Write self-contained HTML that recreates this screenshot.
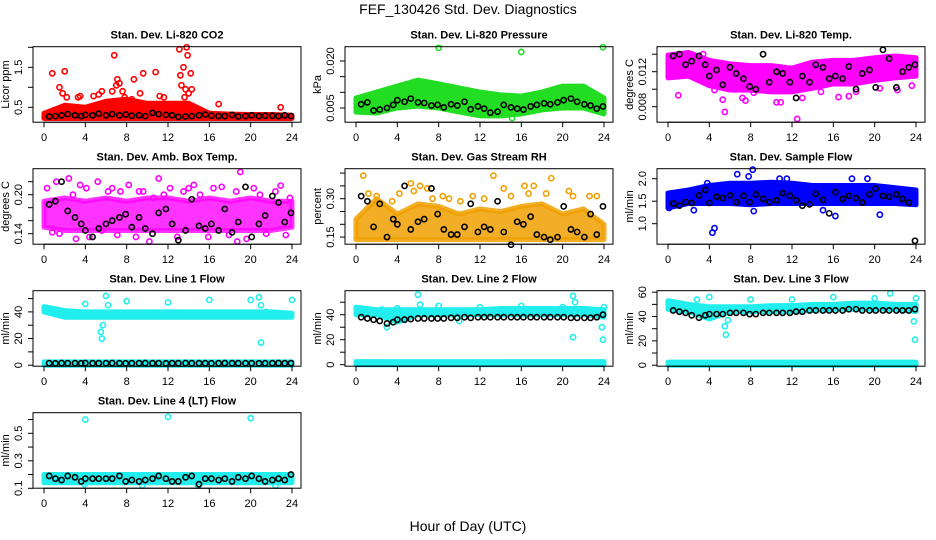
<!DOCTYPE html>
<html><head><meta charset="utf-8"><style>
html,body{margin:0;padding:0;background:#fff;}
svg{display:block;font-family:"Liberation Sans",sans-serif;}
</style></head><body>
<svg id="chart" width="936" height="540" viewBox="0 0 936 540">
<rect width="936" height="540" fill="#fff"/>
<text x="468" y="14" font-size="14" text-anchor="middle">FEF_130426  Std. Dev. Diagnostics</text>
<text x="468" y="531" font-size="14" text-anchor="middle">Hour of Day (UTC)</text>
</svg>
<script>
// shared category arrays
const xTicks = [0,4,8,12,16,20,24];
const bandHours = [0,2,4,6,8,10,12,14,16,18,20,22,24];
const blackHours = [0.5,1.1,1.7,2.3,3.0,3.6,4.0,4.7,5.3,6.0,6.6,7.3,7.9,8.5,9.2,9.8,10.5,11.1,11.8,12.4,13.0,13.7,14.3,15.0,15.6,16.2,16.9,17.5,18.2,18.8,19.5,20.1,20.8,21.4,22.1,22.7,23.3,23.9];

// Panel 1: CO2
const co2Lo = [0.22,0.22,0.22,0.22,0.22,0.22,0.22,0.22,0.22,0.22,0.22,0.22,0.22];
const co2Hi = [0.35,0.55,0.5,0.65,0.7,0.6,0.6,0.6,0.35,0.33,0.32,0.32,0.3];
const co2OutX = [0.8,2.0,1.5,1.8,2.2,3.3,3.5,4.8,5.3,5.6,6.6,6.8,7.0,7.1,7.3,7.6,7.8,8.5,8.7,9.3,9.6,10.8,11.2,11.6,13.1,13.2,13.3,13.5,13.8,13.9,13.7,14.0,14.2,14.3,13.6,16.9,22.9];
const co2OutY = [1.35,1.4,1.0,0.85,0.75,0.75,0.78,0.78,0.82,0.9,0.9,1.8,1.05,1.2,1.1,0.9,0.75,0.7,1.2,0.85,1.35,1.38,0.78,0.75,1.95,1.3,1.05,1.5,2.0,1.8,0.95,0.85,1.35,0.95,0.75,0.58,0.5];
const co2Black = [0.27,0.28,0.30,0.33,0.30,0.28,0.31,0.30,0.34,0.30,0.33,0.30,0.32,0.29,0.30,0.28,0.36,0.33,0.31,0.30,0.26,0.27,0.28,0.30,0.32,0.29,0.28,0.28,0.31,0.27,0.28,0.30,0.28,0.29,0.29,0.28,0.30,0.28];

// Panel 2: Pressure
const presLo = [0.0037,0.0034,0.0050,0.0056,0.0050,0.0037,0.0025,0.0025,0.0031,0.0044,0.0050,0.0050,0.0031];
const presHi = [0.0082,0.0101,0.0120,0.0139,0.0127,0.0114,0.0101,0.0092,0.0088,0.0101,0.0120,0.0120,0.0082];
const presOutX = [8.0,16.0,23.9,15.1];
const presOutY = [0.0242,0.0229,0.0244,0.0018];
const presBlack = [0.0062,0.0068,0.0042,0.0045,0.0050,0.0060,0.0075,0.0070,0.0080,0.0068,0.0066,0.0058,0.0060,0.0052,0.0062,0.0058,0.0070,0.0046,0.0055,0.0048,0.0035,0.0038,0.0060,0.0052,0.0048,0.0045,0.0055,0.0060,0.0065,0.0062,0.0068,0.0075,0.0080,0.0070,0.0062,0.0058,0.0048,0.0055];

// Panel 3: Li-820 Temp
const tempLo = [0.0113,0.0115,0.0104,0.0099,0.0099,0.0097,0.0097,0.0101,0.0106,0.0106,0.0110,0.0113,0.0115];
const tempHi = [0.0139,0.0142,0.0133,0.0129,0.0127,0.0127,0.0124,0.0131,0.0133,0.0133,0.0136,0.0138,0.0136];
const tempOutX = [1.0,5.5,5.3,7.2,7.5,8.3,10.5,10.9,12.5,13.0,16.5,17.5,18.2,20.5,22.2,23.6,3.4,2.5,4.5,9.0,14.8];
const tempOutY = [0.0093,0.0074,0.0088,0.0090,0.0087,0.0096,0.0085,0.0085,0.0066,0.0090,0.0091,0.0092,0.0097,0.0101,0.0099,0.0104,0.0140,0.0133,0.0099,0.0107,0.0097];
const tempBlack = [0.0138,0.0140,0.0128,0.0132,0.0138,0.0128,0.0115,0.0122,0.0105,0.0125,0.0118,0.0112,0.0103,0.0100,0.0140,0.0108,0.0120,0.0118,0.0108,0.0090,0.0115,0.0108,0.0128,0.0125,0.0112,0.0115,0.0112,0.0126,0.0100,0.0118,0.0122,0.0102,0.0145,0.0135,0.0102,0.0120,0.0125,0.0128];

// Panel 4: Amb box temp
const ambLo = [0.15,0.145,0.145,0.145,0.145,0.145,0.145,0.145,0.145,0.145,0.145,0.145,0.15];
const ambHi = [0.19,0.195,0.19,0.195,0.19,0.195,0.195,0.19,0.195,0.19,0.195,0.19,0.19];
const ambOutX = [0.3,1.2,1.5,2.4,2.8,3.5,4.1,4.4,5.2,5.6,6.2,6.6,7.1,7.4,8.2,8.9,9.6,10.2,10.6,11.1,11.6,12.2,12.9,13.5,14.0,14.5,15.1,15.9,16.4,17.2,17.9,18.6,19.0,19.6,20.3,20.9,21.5,22.4,22.9,23.4,0.8,3.1,9.2,18.7,23.8];
const ambOutY = [0.21,0.22,0.14,0.225,0.20,0.215,0.21,0.135,0.22,0.145,0.205,0.21,0.138,0.205,0.215,0.135,0.205,0.128,0.195,0.225,0.2,0.21,0.135,0.205,0.21,0.215,0.2,0.135,0.21,0.212,0.138,0.205,0.235,0.132,0.21,0.2,0.14,0.205,0.214,0.138,0.142,0.132,0.205,0.128,0.195];
const ambBlack = [0.185,0.19,0.22,0.175,0.165,0.155,0.145,0.135,0.148,0.155,0.16,0.165,0.17,0.15,0.165,0.148,0.14,0.172,0.178,0.155,0.13,0.145,0.193,0.152,0.148,0.155,0.145,0.178,0.142,0.158,0.212,0.135,0.155,0.168,0.198,0.188,0.158,0.172];

// Panel 5: Gas stream RH
const rhLo = [0.14,0.14,0.14,0.14,0.14,0.14,0.14,0.14,0.14,0.14,0.14,0.14,0.14];
const rhHi = [0.22,0.30,0.24,0.28,0.27,0.24,0.26,0.25,0.27,0.28,0.24,0.26,0.2];
const rhOutX = [0.7,1.2,2.0,3.5,4.2,5.3,5.6,6.2,6.9,7.4,8.4,9.0,10.1,11.3,12.4,13.3,14.3,15.0,16.3,16.7,17.2,18.4,18.9,20.6,21.0,22.6,23.3];
const rhOutY = [0.39,0.32,0.31,0.29,0.32,0.36,0.33,0.35,0.34,0.30,0.31,0.30,0.29,0.31,0.30,0.39,0.34,0.31,0.35,0.32,0.35,0.32,0.38,0.33,0.31,0.31,0.31];
const rhBlack = [0.31,0.29,0.19,0.28,0.15,0.22,0.20,0.35,0.18,0.21,0.22,0.34,0.24,0.18,0.16,0.16,0.19,0.28,0.17,0.19,0.18,0.29,0.17,0.12,0.21,0.20,0.23,0.16,0.15,0.14,0.15,0.27,0.18,0.17,0.15,0.24,0.16,0.27];

// Panel 6: Sample flow
const sfLo = [1.35,1.45,1.45,1.45,1.42,1.45,1.45,1.45,1.45,1.45,1.45,1.45,1.42];
const sfHi = [1.68,1.75,1.85,1.9,1.9,1.92,1.9,1.85,1.85,1.85,1.85,1.8,1.75];
const sfOutX = [4.3,4.5,6.7,8.2,7.8,17.8,19.3,20.5,16.2,8.3,0.1,2.5,11.5,15.0,3.8,10.8];
const sfOutY = [0.8,0.9,2.1,2.2,2.05,2.0,2.0,1.2,1.17,1.28,1.35,1.3,2.0,1.3,1.9,2.0];
const sfBlack = [1.45,1.40,1.48,1.46,1.63,1.75,1.46,1.60,1.57,1.63,1.48,1.62,1.48,1.65,1.55,1.48,1.52,1.68,1.62,1.52,1.40,1.43,1.66,1.53,1.23,1.70,1.55,1.62,1.57,1.47,1.65,1.78,1.62,1.60,1.65,1.55,1.47,0.62];

// Panel 7: Line 1 flow
const l1Lo = [40,36,36,36,36,36,36,36,36,36,36,36,36];
const l1Hi = [44,41,40,40,40,40,40,40,40,40,40,40,39];
const l1ZeroLo = [0,0,0,0,0,0,0,0,0,0,0,0,0];
const l1ZeroHi = [2.5,2.5,2.5,2.5,2.5,2.5,2.5,2.5,2.5,2.5,2.5,2.5,2.5];
const l1OutX = [4,5.5,5.6,5.7,6,6.2,8,12,16,20,20.8,21,21,21.5,24];
const l1OutY = [46,25,20,30,52,45,48,47,49,49,51,45,17,40,49];
const l1Black = [1.5,1.4,1.6,1.5,1.5,1.4,1.6,1.5,1.5,1.5,1.6,1.5,1.4,1.5,1.5,1.6,1.5,1.5,1.4,1.5,1.5,1.6,1.5,1.5,1.5,1.4,1.5,1.6,1.5,1.5,1.5,1.5,1.4,1.5,1.5,1.6,1.5,1.5];

// Panel 8: Line 2 flow
const l2Lo = [40,40,34,40,40,40,40,40,40,40,40,40,38];
const l2Hi = [46,44,44,44,44,44,44,45,45,45,45,45,44];
const l2OutX = [3,2.5,4,6,6.2,8,12,16,20,21,21.2,21,23.8,23.9,24,10];
const l2OutY = [30,44,45,56,48,47,46,47,46,55,50,22,30,20,46,35];
const l2Black = [38,37,36,35,33,34,36,36,36.5,37,37,37,37,37,37.5,37.5,38,37.5,38,38,38,38,38,38,38,38,38,38,38,38,38,38,37.5,37.5,37.5,37.5,38,40];

// Panel 9: Line 3 flow
const l3Lo = [46,44,38,44,44,44,44,45,46,46,46,46,44];
const l3Hi = [53,50,48,48,48,49,49,50,50,51,51,50,50];
const l3OutX = [2.8,4,5.5,5.6,5.8,8,12,16,20,21.5,23.8,23.9,24];
const l3OutY = [54,56,32,25,37,54,54,56,55,59,36,21,55];
const l3Black = [45,44,43,41,39,41,42,42,42,43,43,43,42,42,43,43,43,43,43,44,44,45,45,45,45,45,45,46,46,45,45,45,45,45,45,45,45,46];

// Panel 10: Line 4 flow
const l4Lo = [0.14,0.14,0.14,0.14,0.14,0.14,0.14,0.14,0.14,0.14,0.14,0.14,0.14];
const l4Hi = [0.2,0.2,0.2,0.2,0.2,0.2,0.2,0.2,0.2,0.2,0.2,0.2,0.2];
const l4OutX = [4,12,20,9.5,14.9,22.4,3.9];
const l4OutY = [0.6,0.62,0.61,0.12,0.12,0.12,0.13];
const l4Black = [0.19,0.17,0.16,0.19,0.18,0.15,0.17,0.17,0.17,0.17,0.17,0.19,0.15,0.16,0.15,0.16,0.17,0.19,0.17,0.15,0.15,0.18,0.19,0.13,0.17,0.17,0.16,0.17,0.15,0.18,0.17,0.19,0.17,0.15,0.16,0.17,0.16,0.20];

const NS = 'http://www.w3.org/2000/svg';
const svg = document.getElementById('chart');
function mk(tag, attrs, parent){
  const e = document.createElementNS(NS, tag);
  for (const k in attrs) e.setAttribute(k, attrs[k]);
  (parent||svg).appendChild(e);
  return e;
}

const panels = [
 {key:'co2', title:'Stan. Dev. Li-820 CO2', ylab:'Licor ppm', c:0, r:0, ys:[2.0,0.6,0.5,60.6], tv:[0.5,1,1.5,2], tl:['0.5','','1.5',''], color:'#ff0000', lo:co2Lo, hi:co2Hi, ox:co2OutX, oy:co2OutY, blk:co2Black},
 {key:'pressure', title:'Stan. Dev. Li-820 Pressure', ylab:'kPa', c:1, r:0, ys:[0.020,14.3,0.005,61.3], tv:[0.005,0.010,0.015,0.020], tl:['0.005','','','0.020'], color:'#22dd22', lo:presLo, hi:presHi, ox:presOutX, oy:presOutY, blk:presBlack},
 {key:'li820-temp', title:'Stan. Dev. Li-820 Temp.', ylab:'degrees C', c:2, r:0, ys:[0.012,25,0.008,60], tv:[0.008,0.010,0.012,0.014], tl:['0.008','','0.012',''], color:'#ff00ff', lo:tempLo, hi:tempHi, ox:tempOutX, oy:tempOutY, blk:tempBlack},
 {key:'amb-box-temp', title:'Stan. Dev. Amb. Box Temp.', ylab:'degrees C', c:0, r:1, ys:[0.20,26,0.14,65], tv:[0.14,0.16,0.18,0.20,0.22], tl:['0.14','','','0.20',''], color:'#ff00ff', lo:ambLo, hi:ambHi, ox:ambOutX, oy:ambOutY, blk:ambBlack, op:0.8},
 {key:'gas-stream-rh', title:'Stan. Dev. Gas Stream RH', ylab:'percent', c:1, r:1, ys:[0.30,30,0.15,68.4], tv:[0.15,0.20,0.25,0.30,0.35,0.40], tl:['0.15','','','0.30','',''], color:'#f0a000', lo:rhLo, hi:rhHi, ox:rhOutX, oy:rhOutY, blk:rhBlack, op:0.85},
 {key:'sample-flow', title:'Stan. Dev. Sample Flow', ylab:'ml/min', c:2, r:1, ys:[2.0,10,1.0,55], tv:[1.0,1.5,2.0], tl:['1.0','1.5','2.0'], color:'#0000ff', lo:sfLo, hi:sfHi, ox:sfOutX, oy:sfOutY, blk:sfBlack},
 {key:'line1-flow', title:'Stan. Dev. Line 1 Flow', ylab:'ml/min', c:0, r:2, ys:[40,21.2,0,74.5], tv:[0,10,20,30,40,50], tl:['0','','20','','40',''], color:'#22eeee', lo:l1Lo, hi:l1Hi, lo2:l1ZeroLo, hi2:l1ZeroHi, ox:l1OutX, oy:l1OutY, blk:l1Black},
 {key:'line2-flow', title:'Stan. Dev. Line 2 Flow', ylab:'ml/min', c:1, r:2, ys:[40,24,0,74], tv:[0,10,20,30,40,50], tl:['0','','20','','40',''], color:'#22eeee', lo:l2Lo, hi:l2Hi, lo2:l1ZeroLo, hi2:l1ZeroHi, ox:l2OutX, oy:l2OutY, blk:l2Black},
 {key:'line3-flow', title:'Stan. Dev. Line 3 Flow', ylab:'ml/min', c:2, r:2, ys:[60,1.5,0,74.5], tv:[0,10,20,30,40,50,60], tl:['0','','20','','40','','60'], color:'#22eeee', lo:l3Lo, hi:l3Hi, lo2:l1ZeroLo, hi2:l1ZeroHi, ox:l3OutX, oy:l3OutY, blk:l3Black},
 {key:'line4-flow', title:'Stan. Dev. Line 4 (LT) Flow', ylab:'ml/min', c:0, r:3, ys:[0.5,20.6,0.1,75.6], tv:[0.1,0.2,0.3,0.4,0.5,0.6], tl:['0.1','','0.3','','0.5',''], color:'#22eeee', lo:l4Lo, hi:l4Hi, ox:l4OutX, oy:l4OutY, blk:l4Black}
];

panels.forEach(p => {
  const left = 33 + 312*p.c, right = 301 + 312*p.c;
  const top = 46.7 + 122*p.r, bottom = top + 75.5;
  const x = h => (44 + 312*p.c) + h*(248/24);
  const y = v => top + p.ys[1] + (v - p.ys[0])*(p.ys[3]-p.ys[1])/(p.ys[2]-p.ys[0]);
  const g = mk('g', {});
  
  

  const t = mk('text', {x:(left+right)/2, y:top-8, 'font-size':11, 'font-weight':'bold', 'text-anchor':'middle'}, g);
  t.textContent = p.title;
  
  

  const yl = mk('text', {x:0, y:0, 'font-size':11, 'text-anchor':'middle', transform:`translate(${left-24},${(top+bottom)/2}) rotate(-90)`}, g);
  yl.textContent = p.ylab;
  
  

  // bands
  function band(lo, hi, nm){
    let pts = bandHours.map((h,i)=>`${x(h)},${y(hi[i])}`);
    for (let i=bandHours.length-1;i>=0;i--) pts.push(`${x(bandHours[i])},${y(lo[i])}`);
    const b = mk('polygon', {points:pts.join(' '), fill:p.color, stroke:p.color, 'stroke-width':5, 'stroke-linejoin':'round', 'fill-opacity':p.op||1, 'stroke-opacity':p.op||1}, g);
    
    
  }
  band(p.lo, p.hi, p.key + '-dense-band');
  if (p.lo2) band(p.lo2, p.hi2, p.key + '-zero-band');

  // outlier points
  p.ox.forEach((h,i) => {
    const c = mk('circle', {cx:x(h), cy:y(p.oy[i]), r:2.6, fill:'none', stroke:p.color, 'stroke-width':1.6}, g);
    
    
  });
  // black series
  p.blk.forEach((v,i) => {
    if (i >= blackHours.length) return;
    const c = mk('circle', {cx:x(blackHours[i]), cy:y(v), r:2.6, fill:'none', stroke:'#000', 'stroke-width':1.6}, g);
    
    
  });

  // box
  const bx = mk('rect', {x:left, y:top, width:right-left, height:bottom-top, fill:'none', stroke:'#000', 'stroke-width':1}, g);
  
  

  // x axis
  const xa = mk('g', {}, g);
  
  
  mk('line', {x1:x(xTicks[0]), x2:x(xTicks[xTicks.length-1]), y1:bottom, y2:bottom, stroke:'#000'}, xa);
  xTicks.forEach(h => {
    mk('line', {x1:x(h), x2:x(h), y1:bottom, y2:bottom+5, stroke:'#000'}, xa);
    const tl = mk('text', {x:x(h), y:bottom+19, 'font-size':11, 'text-anchor':'middle'}, xa);
    tl.textContent = h;
  });
  // y axis
  const ya = mk('g', {}, g);
  
  
  mk('line', {x1:left, x2:left, y1:y(p.tv[0]), y2:y(p.tv[p.tv.length-1]), stroke:'#000'}, ya);
  p.tv.forEach((v,i) => {
    const yy = y(v);
    mk('line', {x1:left-5, x2:left, y1:yy, y2:yy, stroke:'#000'}, ya);
    if (p.tl[i]) {
      const tt = mk('text', {x:0, y:0, 'font-size':11, 'text-anchor':'middle', transform:`translate(${left-11},${yy}) rotate(-90)`}, ya);
      tt.textContent = p.tl[i];
    }
  });
});
</script>
</body></html>
